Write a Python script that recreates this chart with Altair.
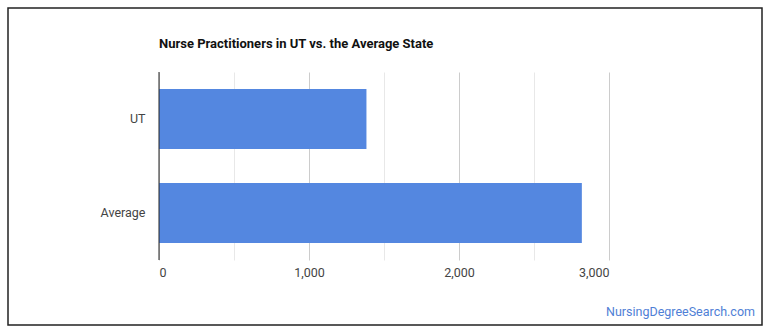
import altair as alt
import pandas as pd

categories = ["UT", "Average"]
values = [1383, 2819]
tick_values = [0, 500, 1000, 1500, 2000, 2500, 3000]
title_text = "Nurse Practitioners in UT vs. the Average State"
watermark_text = "NursingDegreeSearch.com"

df = pd.DataFrame({"state": categories, "count": values})

FONT = "Roboto"

bars = alt.Chart(df).mark_bar(color="#5487e0").encode(
    x=alt.X(
        "count:Q",
        scale=alt.Scale(domain=[0, 3000], nice=False),
        axis=alt.Axis(
            values=tick_values,
            title=None,
            domain=False,
            ticks=False,
            labelExpr="datum.value % 1000 === 0 ? format(datum.value, ',') : ''",
            labelFont=FONT,
            labelFontSize=12.5,
            labelColor="#444444",
            labelPadding=6,
            gridColor=alt.condition("datum.value % 1000 === 0", alt.value("#cccccc"), alt.value("#e8e8e8")),
            gridWidth=1,
        ),
    ),
    y=alt.Y(
        "state:N",
        sort=categories,
        scale=alt.Scale(paddingInner=0.36, paddingOuter=0.18),
        axis=alt.Axis(
            title=None,
            ticks=False,
            domain=False,
            grid=False,
            labelFont=FONT,
            labelFontSize=12.5,
            labelColor="#444444",
            labelPadding=14,
        ),
    ),
)

zero_line = alt.Chart(pd.DataFrame({"z": [0]})).mark_rule(color="#222222", strokeWidth=1).encode(
    x=alt.X("z:Q"),
)

title = alt.Chart(pd.DataFrame({"t": [title_text]})).mark_text(
    align="left", baseline="alphabetic", font=FONT, fontSize=13, fontWeight="bold", color="#111111"
).encode(
    text="t:N",
    x=alt.value(0),
    y=alt.value(-24),
)

watermark = alt.Chart(pd.DataFrame({"t": [watermark_text]})).mark_text(
    align="right", baseline="middle", font=FONT, fontSize=12.5, color="#4f80d6"
).encode(
    text="t:N",
    x=alt.value(596),
    y=alt.value(240),
)

border = alt.Chart(pd.DataFrame({"b": [1]})).mark_rect(
    fill=None, stroke="#222222", strokeWidth=1.5
).encode(
    x=alt.value(-151),
    x2=alt.value(603),
    y=alt.value(-64),
    y2=alt.value(253),
)

chart = alt.layer(bars, zero_line, title, watermark, border).properties(
    width=450,
    height=188,
    padding={"left": 159, "top": 72, "right": 161, "bottom": 75},
    autosize=alt.AutoSizeParams(type="none"),
    background="white",
).configure_view(stroke=None)

chart.save("out.html", embed_options={"renderer": "svg", "actions": False})
